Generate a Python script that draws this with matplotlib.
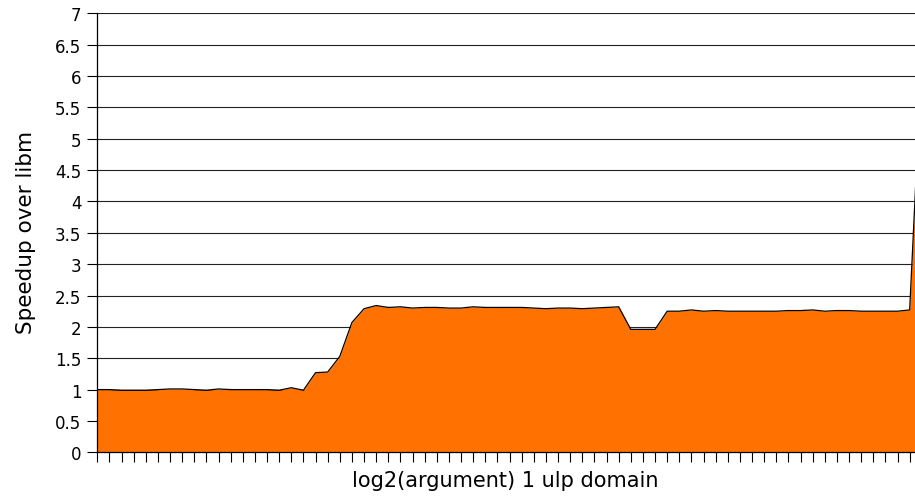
import matplotlib
matplotlib.use("Agg")
import matplotlib.pyplot as plt
import numpy as np

plt.rcParams['font.family'] = ['DejaVu Sans']

# Speedup over libm for each log2(argument) bucket (last point lies just past the visible edge)
speedup = [
    1.00, 1.00, 0.99, 0.99, 0.99, 1.00, 1.01, 1.01, 1.00, 0.99,
    1.01, 1.00, 1.00, 1.00, 1.00, 0.99, 1.03, 0.99, 1.27, 1.28,
    1.53, 2.07, 2.29, 2.34, 2.31, 2.32, 2.30, 2.31, 2.31, 2.30,
    2.30, 2.32, 2.31, 2.31, 2.31, 2.31, 2.30, 2.29, 2.30, 2.30,
    2.29, 2.30, 2.31, 2.32, 1.96, 1.96, 1.96, 2.25, 2.25, 2.27,
    2.25, 2.26, 2.25, 2.25, 2.25, 2.25, 2.25, 2.26, 2.26, 2.27,
    2.25, 2.26, 2.26, 2.25, 2.25, 2.25, 2.25, 2.27, 6.30,
]
y_ticks = [0, 0.5, 1, 1.5, 2, 2.5, 3, 3.5, 4, 4.5, 5, 5.5, 6, 6.5, 7]
y_tick_labels = ['0', '0.5', '1', '1.5', '2', '2.5', '3', '3.5', '4', '4.5',
                 '5', '5.5', '6', '6.5', '7']
x_label = 'log2(argument) 1 ulp domain'
y_label = 'Speedup over libm'

W, H = 915, 502
fig = plt.figure(figsize=(W / 100, H / 100), dpi=100)
left_px, right_px, top_px, bottom_px = 97.3, 921.8, 14.3, 453.3
ax = fig.add_axes([left_px / W, (H - bottom_px) / H,
                   (right_px - left_px) / W, (bottom_px - top_px) / H])

x = np.arange(len(speedup))
ax.fill_between(x, 0, speedup, color='#ff7100', linewidth=0, zorder=2)
ax.plot(x, speedup, color='black', linewidth=0.9, zorder=3)

ax.set_xlim(0, len(speedup) - 1)
ax.set_ylim(0, 7)
ax.set_yticks(y_ticks)
ax.set_yticklabels(y_tick_labels, fontsize=12)
ax.set_xticks(x)
ax.set_xticklabels([])
ax.tick_params(axis='y', direction='out', length=7.5, width=0.8, pad=4, colors='black')
ax.tick_params(axis='x', direction='out', length=7.5, width=0.8, colors='black')

ax.yaxis.grid(True, color='#222222', linewidth=0.8, zorder=1)
ax.set_axisbelow(True)
for s in ['top', 'right']:
    ax.spines[s].set_visible(False)
for s in ['left', 'bottom']:
    ax.spines[s].set_color('black')
    ax.spines[s].set_linewidth(0.9)
    ax.spines[s].set_zorder(4)

fig.text(505 / W, 1 - 481 / H, x_label, ha='center', va='center', fontsize=15)
fig.text(26 / W, 1 - 232 / H, y_label, ha='center', va='center', fontsize=15.5,
         rotation=90)

fig.savefig('out.png', dpi=100)
